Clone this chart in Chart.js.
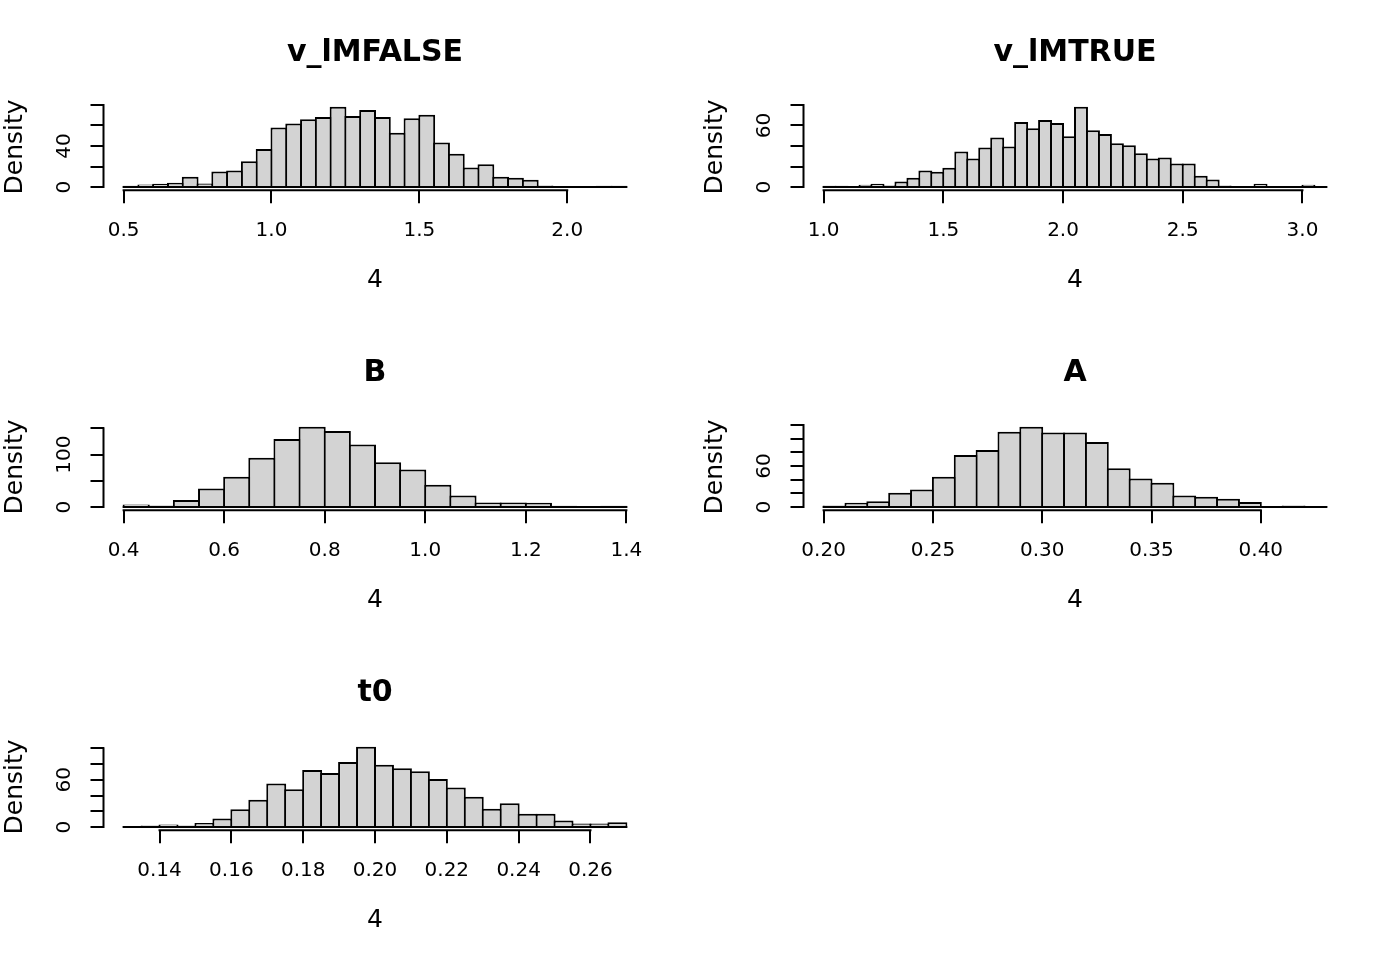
<!DOCTYPE html>
<html>
<head>
<meta charset="utf-8">
<script src="https://cdn.jsdelivr.net/npm/chart.js@4.4.1/dist/chart.umd.min.js"></script>
<style>
  body { margin: 0; background: #fff; }
  #wrap { position: relative; width: 1400px; height: 960px; background: #fff; }
  canvas { position: absolute; }
</style>
</head>
<body>
<div id="wrap">
  <canvas id="p1" width="700" height="320" style="left:0px;top:0px"></canvas>
  <canvas id="p2" width="700" height="320" style="left:700px;top:0px"></canvas>
  <canvas id="p3" width="700" height="320" style="left:0px;top:320px"></canvas>
  <canvas id="p4" width="700" height="320" style="left:700px;top:320px"></canvas>
  <canvas id="p5" width="700" height="320" style="left:0px;top:640px"></canvas>
</div>
<script>
// ---- data ----
// v_lMFALSE: bins of 0.05 from 0.5 to 2.2
const lmFalseStart = 0.5, lmFalseBin = 0.05;
const lmFalseDensity = [1.3, 2.6, 3.2, 4.2, 10, 3.6, 15.2, 16.2, 25.2, 37.2, 58, 62, 66, 68.3, 78.3, 69.3, 75,
  68.3, 53, 67, 70.5, 43.4, 32.4, 19.1, 22.3, 10, 9, 7.1, 1.6, 0.6, 0.3, 0.3, 1.3, 1.3];
const lmFalseXTicks = [0.5, 1.0, 1.5, 2.0];
const lmFalseXLabels = ['0.5', '1.0', '1.5', '2.0'];
const lmFalseYTicks = [0, 20, 40, 60, 80];
const lmFalseYLabels = ['0', '', '40', '', ''];

// v_lMTRUE: bins of 0.05 from 1.0 to 3.1
const lmTrueStart = 1.0, lmTrueBin = 0.05;
const lmTrueDensity = [1.3, 1.3, 0, 2.3, 3.2, 1.9, 5.5, 9, 16.2, 14.9, 18.8, 34.6, 27.8, 38.5, 48.2, 39.5, 63.4,
  57.3, 65.4, 62.5, 49.5, 78.3, 55.3, 51.8, 42.7, 40.8, 33, 27.8, 28.8, 23, 23, 11, 7.4, 1.6, 0, 0, 3.2, 0, 0, 0, 2.3, 1];
const lmTrueXTicks = [1.0, 1.5, 2.0, 2.5, 3.0];
const lmTrueXLabels = ['1.0', '1.5', '2.0', '2.5', '3.0'];
const lmTrueYTicks = [0, 20, 40, 60, 80];
const lmTrueYLabels = ['0', '', '', '60', ''];

// B: bins of 0.05 from 0.4 to 1.4
const bStart = 0.4, bBin = 0.05;
const bDensity = [5, 3.2, 13.3, 35.4, 57.6, 93.7, 129.7, 153, 145, 119, 85.4, 71.5, 42.4, 22.2, 8.9, 8.9, 8.2, 2.5, 0.6, 2.5];
const bXTicks = [0.4, 0.6, 0.8, 1.0, 1.2, 1.4];
const bXLabels = ['0.4', '0.6', '0.8', '1.0', '1.2', '1.4'];
const bYTicks = [0, 50, 100, 150];
const bYLabels = ['0', '', '100', ''];

// A: bins of 0.01 from 0.20 to 0.43
const aStart = 0.20, aBin = 0.01;
const aDensity = [2.4, 6.3, 8.7, 20.9, 25.7, 44.2, 76.2, 83.5, 110.2, 117.5, 109.2, 109.2, 95.1, 56.8, 41.7, 35.4,
  17, 15, 12.1, 7.3, 0.5, 2.4, 0.5];
const aXTicks = [0.20, 0.25, 0.30, 0.35, 0.40];
const aXLabels = ['0.20', '0.25', '0.30', '0.35', '0.40'];
const aYTicks = [0, 20, 40, 60, 80, 100, 120];
const aYLabels = ['0', '', '', '60', '', '', ''];

// t0: bins of 0.005 from 0.13 to 0.27
const t0Start = 0.13, t0Bin = 0.005;
const t0Density = [0.8, 2.1, 3.4, 2.1, 5.1, 11, 22.8, 34.6, 55.3, 48.1, 72.6, 68.8, 82.7, 102.1, 79.3, 74.7, 70.9,
  61.2, 50.2, 38.4, 23.2, 30.4, 16.9, 16.9, 8.4, 4.6, 4.6, 6.3];
const t0XTicks = [0.14, 0.16, 0.18, 0.20, 0.22, 0.24, 0.26];
const t0XLabels = ['0.14', '0.16', '0.18', '0.20', '0.22', '0.24', '0.26'];
const t0YTicks = [0, 20, 40, 60, 80, 100];
const t0YLabels = ['0', '', '', '60', '', ''];

// ---- layout (R par(mfrow=c(3,2)) look) ----
const FONT = "'DejaVu Sans', 'Liberation Sans', sans-serif";
const PLOT_LEFT = 103.5, PLOT_RIGHT = 646.5;
const Y_AXIS_W = 103.5, X_AXIS_H = 105.5, TICK_LEN = 13;

Chart.defaults.font.family = FONT;
Chart.defaults.color = '#000';

const mctx = document.createElement('canvas').getContext('2d');
mctx.font = '20px ' + FONT;

// R-style axis lines (first to last tick) and the bar baseline
const rAxisLines = {
  id: 'rAxisLines',
  afterDraw(chart) {
    const { ctx, chartArea, scales: { x, y } } = chart;
    const xt = x.ticks, yt = y.ticks;
    const b = chart.options.plugins.rAxisLines;
    ctx.save();
    ctx.strokeStyle = '#000';
    ctx.lineWidth = 2;
    ctx.beginPath();
    ctx.moveTo(x.getPixelForValue(xt[0].value) - 1, chartArea.bottom);
    ctx.lineTo(x.getPixelForValue(xt[xt.length - 1].value) + 1, chartArea.bottom);
    ctx.moveTo(chartArea.left, y.getPixelForValue(yt[0].value) + 1);
    ctx.lineTo(chartArea.left, y.getPixelForValue(yt[yt.length - 1].value) - 1);
    // bottoms of the histogram cells
    ctx.moveTo(x.getPixelForValue(b.from) - 1, y.getPixelForValue(0));
    ctx.lineTo(x.getPixelForValue(b.to) + 1, y.getPixelForValue(0));
    ctx.stroke();
    ctx.restore();
  }
};

function makeHist(id, title, start, bin, values, xTicks, xLabels, yTicks, yLabels) {
  const n = values.length;
  const end = start + n * bin;
  const xPad = 0.04 * (end - start);
  const vMax = Math.max(...values);
  const pts = values.map((v, i) => ({ x: start + (i + 0.5) * bin, y: v }));
  const pxPerUnit = (PLOT_RIGHT - PLOT_LEFT) / (end - start + 2 * xPad);
  const widest = Math.max(...yLabels.map(s => mctx.measureText(s).width));

  new Chart(document.getElementById(id), {
    type: 'bar',
    data: {
      datasets: [{
        data: pts,
        backgroundColor: '#d3d3d3',
        borderColor: '#000',
        borderWidth: 2,
        borderSkipped: 'start',
        inflateAmount: 0,
        barThickness: bin * pxPerUnit + 2
      }]
    },
    options: {
      responsive: false,
      devicePixelRatio: 1,
      animation: false,
      layout: { padding: { left: 0, top: 0, right: 700 - PLOT_RIGHT, bottom: 24.2 } },
      plugins: {
        legend: { display: false },
        tooltip: { enabled: false },
        rAxisLines: { from: start, to: end },
        title: {
          display: true,
          text: title,
          fullSize: false,
          font: { size: 30, weight: 'bold' },
          padding: { top: 35.5, bottom: 32 }
        }
      },
      scales: {
        x: {
          type: 'linear',
          offset: false,
          min: start - xPad,
          max: end + xPad,
          afterBuildTicks: s => { s.ticks = xTicks.map(v => ({ value: v })); },
          afterFit: s => { s.height = X_AXIS_H; },
          ticks: {
            autoSkip: false, maxRotation: 0, minRotation: 0,
            padding: 15.5,
            font: { size: 20 },
            callback: (v, i) => xLabels[i]
          },
          grid: { display: true, offset: false, drawOnChartArea: false, drawTicks: true, tickLength: TICK_LEN, lineWidth: 2, color: '#000' },
          border: { display: false },
          title: { display: true, text: '4', font: { size: 25 }, padding: { top: 0, bottom: 0 } }
        },
        y: {
          type: 'linear',
          min: -0.04 * vMax,
          max: 1.04 * vMax,
          afterBuildTicks: s => { s.ticks = yTicks.map(v => ({ value: v })); },
          afterFit: s => { s.width = Y_AXIS_W; },
          ticks: {
            autoSkip: false, minRotation: 90, maxRotation: 90,
            crossAlign: 'center',
            padding: Y_AXIS_W - TICK_LEN - 65 - widest / 2,
            font: { size: 20 },
            callback: (v, i) => yLabels[i]
          },
          grid: { display: true, offset: false, drawOnChartArea: false, drawTicks: true, tickLength: TICK_LEN, lineWidth: 2, color: '#000' },
          border: { display: false },
          title: { display: true, text: 'Density', font: { size: 25 }, padding: { top: 0, bottom: 0 } }
        }
      }
    },
    plugins: [rAxisLines]
  });
}

makeHist('p1', 'v_lMFALSE', lmFalseStart, lmFalseBin, lmFalseDensity, lmFalseXTicks, lmFalseXLabels, lmFalseYTicks, lmFalseYLabels);
makeHist('p2', 'v_lMTRUE', lmTrueStart, lmTrueBin, lmTrueDensity, lmTrueXTicks, lmTrueXLabels, lmTrueYTicks, lmTrueYLabels);
makeHist('p3', 'B', bStart, bBin, bDensity, bXTicks, bXLabels, bYTicks, bYLabels);
makeHist('p4', 'A', aStart, aBin, aDensity, aXTicks, aXLabels, aYTicks, aYLabels);
makeHist('p5', 't0', t0Start, t0Bin, t0Density, t0XTicks, t0XLabels, t0YTicks, t0YLabels);
</script>
</body>
</html>
